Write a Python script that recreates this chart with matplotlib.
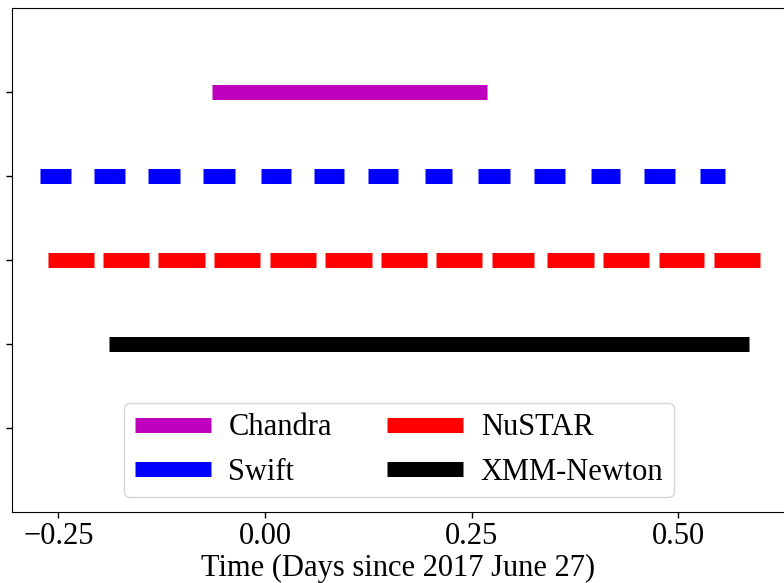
import matplotlib
matplotlib.use("Agg")
import matplotlib.pyplot as plt

plt.rcParams['font.family'] = ['Liberation Serif', 'DejaVu Serif']

# Observation windows (days since 2017 June 27)
chandra = [(-0.064, 0.269)]
swift = [(-0.272, -0.235), (-0.207, -0.169), (-0.141, -0.103), (-0.075, -0.036),
         (-0.005, 0.031), (0.059, 0.096), (0.125, 0.161), (0.193, 0.226),
         (0.258, 0.296), (0.325, 0.363), (0.394, 0.429), (0.458, 0.496),
         (0.526, 0.557)]
nustar = [(-0.263, -0.207), (-0.196, -0.140), (-0.129, -0.073), (-0.062, -0.006),
          (0.006, 0.062), (0.073, 0.129), (0.140, 0.196), (0.207, 0.263),
          (0.274, 0.325), (0.341, 0.398), (0.409, 0.464), (0.476, 0.531),
          (0.543, 0.599)]
xmm = [(-0.189, 0.586)]

names = ["Chandra", "Swift", "NuSTAR", "XMM-Newton"]
rows = [5, 4, 3, 2]
colors = ["m", "b", "r", "k"]
data = [chandra, swift, nustar, xmm]
ytick_pos = [1, 2, 3, 4, 5]
xtick_pos = [-0.25, 0.0, 0.25, 0.5]

fig = plt.figure(figsize=(7.84, 5.83), dpi=100)
ax = fig.add_axes([12.3 / 784, 1 - 512 / 583, 1 - 12.3 / 784, (512 - 8.3) / 583])

for name, row, col, segs in zip(names, rows, colors, data):
    for i, (a, b) in enumerate(segs):
        ax.plot([a, b], [row, row], color=col, lw=10.8, solid_capstyle='butt',
                label=name if i == 0 else None)

ax.set_xlim((12.3 - 265) / 826.7, (784 - 265) / 826.7)
ax.set_ylim(0, 6)
ax.set_yticks(ytick_pos)
ax.set_yticklabels([])
ax.set_xticks(xtick_pos)
ax.set_xticklabels([f"{v:.2f}".replace('-', '\u2212') for v in xtick_pos])
ax.spines['right'].set_visible(False)
ax.tick_params(axis='x', labelsize=22, pad=3)
ax.tick_params(axis='both', width=1.0, length=4)
ax.set_xlabel("Time (Days since 2017 June 27)", fontsize=22, labelpad=2)

ax.legend(ncol=2, fontsize=22, loc='center', bbox_to_anchor=(399 / 784, 1 - 450 / 583),
          bbox_transform=fig.transFigure, handlelength=2.5, handletextpad=0.57,
          columnspacing=1.8, borderpad=0.35, labelspacing=0.5)

fig.savefig("out.png", dpi=100)
